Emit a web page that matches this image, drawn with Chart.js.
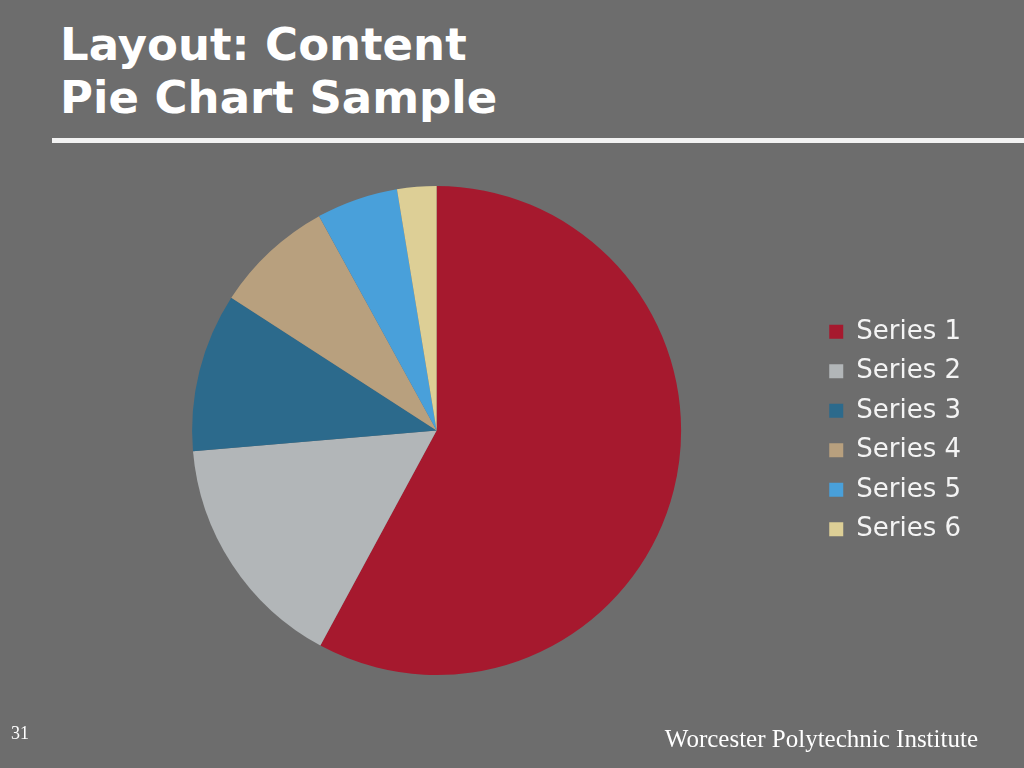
<!DOCTYPE html>
<html>
<head>
<meta charset="utf-8">
<script src="https://cdn.jsdelivr.net/npm/chart.js@4"></script>
<style>
  html, body { margin:0; padding:0; width:1024px; height:768px; background:#6d6d6d; overflow:hidden; }
  #title { position:absolute; left:60px; top:18px; font-family:"DejaVu Sans", sans-serif; font-weight:bold; font-size:45px; line-height:53px; color:#ffffff; }
  #rule { position:absolute; left:52px; right:0; top:138px; height:5px; background:#f2f2f2; }
  #pg { position:absolute; left:11px; top:724px; font-family:"Liberation Serif", serif; font-size:18px; line-height:18px; color:#ffffff; }
  #foot { position:absolute; right:46px; top:726px; font-family:"Liberation Serif", serif; font-size:25px; line-height:25px; color:#ffffff; white-space:nowrap; }
  #wrap { position:absolute; left:0; top:0; width:1024px; height:768px; }
</style>
</head>
<body>
<div id="title">Layout: Content<br>Pie Chart Sample</div>
<div id="rule"></div>
<div id="wrap"><canvas id="c"></canvas></div>
<div id="pg">31</div>
<div id="foot">Worcester Polytechnic Institute</div>
<script>
const categories = ["Series 1", "Series 2", "Series 3", "Series 4", "Series 5", "Series 6"];
const values = [58, 15.8, 10.5, 7.9, 5.4, 2.6];
const colors = ["#a6192e", "#b2b6b8", "#2c6a8c", "#b8a07e", "#49a0da", "#ddcf96"];

new Chart(document.getElementById("c"), {
  type: "pie",
  data: {
    labels: categories,
    datasets: [{ data: values, backgroundColor: colors, borderWidth: 0, hoverOffset: 0 }]
  },
  options: {
    responsive: true,
    maintainAspectRatio: false,
    animation: false,
    layout: { padding: { left: 57.5, right: 53, top: 186, bottom: 93 } },
    plugins: {
      tooltip: { enabled: false },
      legend: {
        position: "right",
        align: "center",
        labels: {
          color: "#f4f4f4",
          boxWidth: 14,
          boxHeight: 14,
          padding: 13.5,
          font: { family: "DejaVu Sans", size: 26 }
        }
      }
    }
  }
});
</script>
</body>
</html>
